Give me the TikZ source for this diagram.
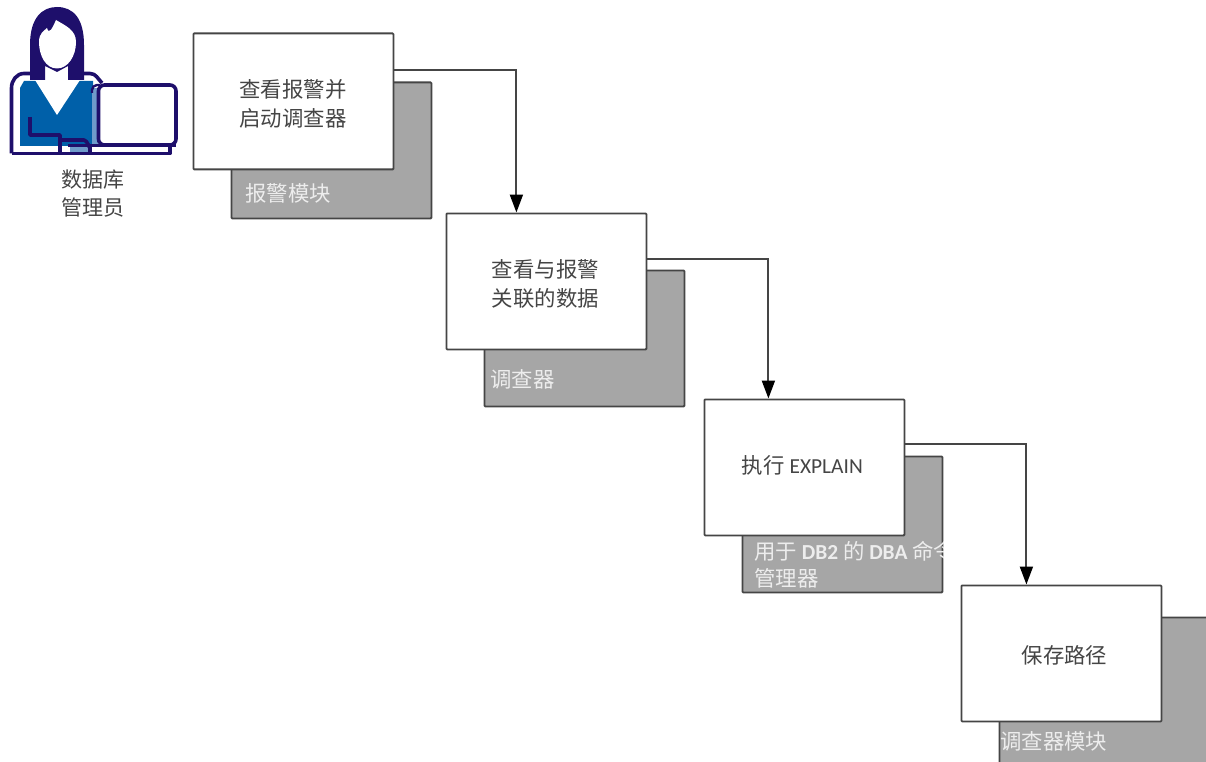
\documentclass[tikz,border=0pt]{standalone}
\usepackage{fontspec}
\setmainfont{Carlito}
\newfontfamily\cjk{Noto Sans CJK SC}
\usetikzlibrary{arrows.meta,calc}
\definecolor{navy}{HTML}{1E0F6B}
\definecolor{shirt}{HTML}{0060A9}
\definecolor{paleblue}{HTML}{6F9BCB}
\definecolor{panel}{HTML}{A6A6A6}
\definecolor{ink}{HTML}{454545}
\definecolor{soft}{HTML}{EDEDED}
\tikzset{
  x=1pt,y=-1pt,
  taskbox/.style={draw=ink,line width=1.8pt,fill=white,minimum width=200pt,minimum height=136pt,inner sep=0pt,anchor=north west,rounded corners=0.8pt},
  tasktext/.style={inner sep=0pt,align=center,text=ink,font=\fontsize{21.4}{29}\selectfont},
  toolbox/.style={draw=ink,line width=1.8pt,fill=panel,minimum width=200pt,minimum height=136pt,inner sep=0pt,anchor=north west,rounded corners=0.8pt},
  toollabel/.style={text=soft,anchor=west,inner sep=0pt,align=left,font=\fontsize{21.4}{27}\selectfont},
  flow/.style={draw=ink,line width=2pt,-{Triangle[length=18pt,width=13pt,color=black]}},
  personline/.style={draw=navy,line width=3.6pt,line join=round},
}
\begin{document}
\begin{tikzpicture}
\useasboundingbox (0,0) rectangle (1206,762);
\clip (0,0) rectangle (1206,762);
% person: shirt and collar
\fill[shirt] (20,88) -- (24,81) -- (93,81) -- (93,146) -- (20,146) -- cycle;
\fill[white] (35,80) -- (80,80) -- (57,115) -- cycle;
% person: tablet edge and desk
\fill[paleblue] (92,88) rectangle (98,146);
\fill[paleblue] (70,147) rectangle (90,152);
\draw[personline] (11.5,153.5) -- (11.5,88) to[out=90,in=180] (24,73.5) -- (31,73.5);
\draw[personline] (84,73.5) -- (90,73.5) to[out=0,in=135] (102,83);
\draw[personline] (11.5,153.5) -- (170,153.5) -- (170,146);
\draw[personline] (30,117) -- (30,135) -- (60,135) -- (60,153);
\draw[personline] (60,140) -- (84,140) to[out=0,in=-90] (90,147) -- (90,153);
% person: hair and face
\fill[navy] (30,80) -- (30,45) .. controls (30,18) and (42,7) .. (57,7) .. controls (73,7) and (84,18) .. (84,45) -- (84,80) -- (68,80) -- (68,66) -- (57,72) -- (45,66) -- (45,80) -- cycle;
\fill[white] (57,68.5) .. controls (46,68.5) and (39,56) .. (39,42) .. controls (39,33) and (44,31) .. (47,28) .. controls (49,35) and (52,29) .. (56,20) .. controls (66,26) and (76,30) .. (76,42) .. controls (76,56) and (68,68.5) .. (57,68.5) -- cycle;
% person: screen
\draw[navy,line width=3.6pt,fill=white,rounded corners=6pt] (98.5,145) -- (98.5,85) -- (176,85) -- (176,145) -- cycle;
\draw[navy,line width=2.4pt,rounded corners=5pt] (92,93) -- (92,85) -- (100,85);
\draw[navy,line width=3.6pt] (68,145.5) -- (176,145.5);
\node[tasktext,font=\fontsize{21}{28}\selectfont] (admin) at (93,194) {\cjk 数据库\\\cjk 管理员};
% tool panels
\node[toolbox] (g1) at (230.5,81.5) {};
\node[toolbox] (g2) at (483.5,269.5) {};
\node[toolbox] (g3) at (741.5,455.5) {};
\node[toolbox,minimum width=215pt,minimum height=170pt] (g4) at (998.5,616.5) {};
\node[toollabel] (l1) at (245,193) {\cjk 报警模块};
\node[toollabel] (l2) at (490,379) {\cjk 调查器};
\begin{scope}
\clip (g3.south west) rectangle (g3.north east);
\node[toollabel] (l3) at (754,565) {{\cjk 用于} \textbf{DB2} {\cjk 的} \textbf{DBA} {\cjk 命令}\\{\cjk 管理器}};
\end{scope}
\node[toollabel] (l4) at (1000,741) {\cjk 调查器模块};
% task boxes
\node[taskbox] (b1) at (192.5,32.5) {};
\node[taskbox] (b2) at (445.5,212.5) {};
\node[taskbox] (b3) at (703.5,398.5) {};
\node[taskbox] (b4) at (960.5,584.5) {};
\node[tasktext,xshift=-0.5pt,yshift=-2pt] (t1) at (b1) {\cjk 查看报警并\\\cjk 启动调查器};
\node[tasktext,xshift=-1pt,yshift=-3pt] (t2) at (b2) {\cjk 查看与报警\\\cjk 关联的数据};
\node[tasktext,xshift=-2pt,yshift=2pt] (t3) at (b3) {{\cjk 执行} EXPLAIN};
\node[tasktext,xshift=3pt,yshift=-2pt] (t4) at (b4) {\cjk 保存路径};
% connectors
\draw[flow] ([yshift=31pt]b1.east) -| ([xshift=-30pt]b2.north);
\draw[flow] ([yshift=22pt]b2.east) -| ([xshift=-36pt]b3.north);
\draw[flow] ([yshift=23pt]b3.east) -| ([xshift=-35pt]b4.north);
\end{tikzpicture}
\end{document}
